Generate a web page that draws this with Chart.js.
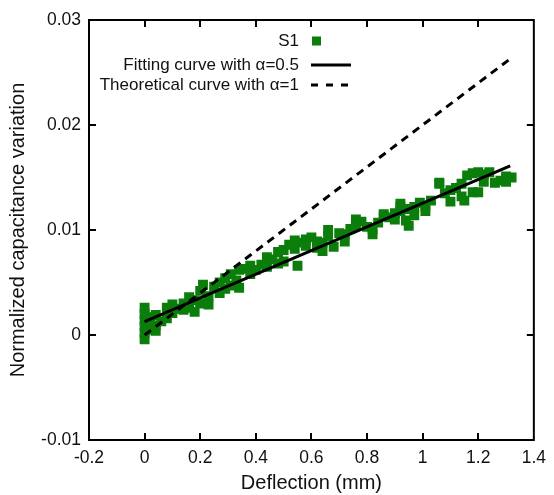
<!DOCTYPE html>
<html>
<head>
<meta charset="utf-8">
<script src="https://cdn.jsdelivr.net/npm/chart.js@4/dist/chart.umd.min.js"></script>
<style>
  html, body { margin: 0; padding: 0; background: #ffffff; }
  #wrap { width: 554px; height: 495px; }
</style>
</head>
<body>
<div id="wrap"><canvas id="c" width="554" height="495"></canvas></div>
<script>
// ---- data ----
const s1X = [
  0,0,0,0,0,0, 0.01,0.01, 0.02, 0.04,0.04,0.04, 0.06, 0.08,0.08, 0.10,0.10, 0.12,
  0.14,0.14, 0.16,0.16, 0.18,0.18, 0.20,0.20, 0.21, 0.23,0.23, 0.25, 0.27,0.27,
  0.29,0.29, 0.31,0.31, 0.33, 0.34,0.34, 0.36, 0.38,0.38, 0.40, 0.42, 0.44,0.44,
  0.46, 0.48,0.48, 0.50,0.50, 0.52, 0.54,0.54,0.55, 0.56, 0.58,0.58, 0.60,
  0.62,0.62, 0.64,0.64, 0.66,0.66, 0.68, 0.70, 0.72,0.72, 0.74, 0.76,0.76, 0.78,
  0.80, 0.82,0.82, 0.84, 0.86,0.86, 0.88, 0.90,0.90, 0.92,0.92,0.92, 0.94,0.94, 0.95,
  0.97,0.97, 0.99, 1.01,1.01, 1.03, 1.06,1.06, 1.08, 1.10,1.10, 1.12, 1.14,1.14,
  1.15, 1.16, 1.18,1.18, 1.20,1.20, 1.22,1.22, 1.24, 1.26, 1.28, 1.30,1.30, 1.32
];
const s1Y = [
  0.0026,0.0020,0.0014,0.0008,0.0002,-0.0004, 0.0017,0.0005, 0.0011, 0.0019,0.0009,0.0004,
  0.0013, 0.0026,0.0016, 0.0029,0.0021, 0.0025,
  0.0030,0.0024, 0.0036,0.0026, 0.0033,0.0022, 0.0042,0.0030, 0.0048, 0.0037,0.0029,
  0.0046, 0.0050,0.0040,
  0.0054,0.0044, 0.0058,0.0047, 0.0052, 0.0062,0.0045, 0.0063, 0.0066,0.0058, 0.0062,
  0.0067, 0.0074,0.0065,
  0.0072, 0.0079,0.0068, 0.0081,0.0070, 0.0086, 0.0090,0.0082,0.0066, 0.0088,
  0.0091,0.0085, 0.0093,
  0.0089,0.0083, 0.0088,0.0080, 0.0100,0.0094, 0.0084, 0.0097, 0.0096,0.0089, 0.0101,
  0.0110,0.0104, 0.0108,
  0.0103, 0.0101,0.0096, 0.0107, 0.0113,0.0115, 0.0112, 0.0116,0.0110,
  0.0125,0.0118,0.0122, 0.0109,0.0120, 0.0104,
  0.0122,0.0114, 0.0126, 0.0123,0.0118, 0.0128, 0.0145,0.0144, 0.0135, 0.0138,0.0127,
  0.0140, 0.0144,0.0132,
  0.0128, 0.0152, 0.0154,0.0136, 0.0155,0.0136, 0.0153,0.0146, 0.0155, 0.0145, 0.0147,
  0.0151,0.0146, 0.0150
];
const fitX = [0, 1.315];
const fitY = [0.00127, 0.0161];
const theoX = [0, 1.315];
const theoY = [0, 0.0263];
const xTicks = [-0.2, 0, 0.2, 0.4, 0.6, 0.8, 1, 1.2, 1.4];
const yTicks = [-0.01, 0, 0.01, 0.02, 0.03];
const legendLabels = ["S1", "Fitting curve with α=0.5", "Theoretical curve with α=1"];
const xTitle = "Deflection (mm)";
const yTitle = "Normalized capacitance variation";

const FONT = "'Liberation Sans', Arial, sans-serif";
const GREEN = "#0b7d0b";

const toPts = (xs, ys) => xs.map((x, i) => ({ x: x, y: ys[i] }));

const framePlugin = {
  id: 'frame',
  afterDatasetsDraw(chart) {
    const { ctx, chartArea: a, scales } = chart;
    ctx.save();
    ctx.strokeStyle = '#000';
    ctx.lineWidth = 2;
    ctx.strokeRect(a.left, a.top, a.right - a.left, a.bottom - a.top);
    const L = 7;
    ctx.beginPath();
    xTicks.slice(1, -1).forEach(v => {
      const px = Math.round(scales.x.getPixelForValue(v));
      ctx.moveTo(px, a.bottom); ctx.lineTo(px, a.bottom - L);
      ctx.moveTo(px, a.top); ctx.lineTo(px, a.top + L);
    });
    yTicks.slice(1, -1).forEach(v => {
      const py = Math.round(scales.y.getPixelForValue(v));
      ctx.moveTo(a.left, py); ctx.lineTo(a.left + L, py);
      ctx.moveTo(a.right, py); ctx.lineTo(a.right - L, py);
    });
    ctx.stroke();
    ctx.restore();
  }
};

const legendPlugin = {
  id: 'customLegend',
  afterDraw(chart) {
    const { ctx } = chart;
    ctx.save();
    ctx.font = "17px " + FONT;
    ctx.fillStyle = '#111';
    ctx.textAlign = 'right';
    ctx.textBaseline = 'middle';
    const tx = 299;
    const rows = [41, 65, 85];
    legendLabels.forEach((t, i) => ctx.fillText(t, tx, rows[i]));
    ctx.fillStyle = GREEN;
    ctx.fillRect(312, rows[0] - 4.5, 9, 9);
    ctx.strokeStyle = '#000';
    ctx.lineWidth = 3;
    ctx.beginPath(); ctx.moveTo(311, rows[1]); ctx.lineTo(351, rows[1]); ctx.stroke();
    ctx.setLineDash([7, 8]);
    ctx.beginPath(); ctx.moveTo(311, rows[2]); ctx.lineTo(351, rows[2]); ctx.stroke();
    ctx.restore();
  }
};

const fmt = v => String(parseFloat(Number(v).toFixed(3)));

new Chart(document.getElementById('c'), {
  type: 'scatter',
  data: {
    datasets: [
      {
        label: legendLabels[1], data: toPts(fitX, fitY), showLine: true,
        borderColor: '#000', borderWidth: 3, pointRadius: 0, fill: false, order: 1
      },
      {
        label: legendLabels[2], data: toPts(theoX, theoY), showLine: true,
        borderColor: '#000', borderWidth: 3, borderDash: [8, 6], pointRadius: 0, fill: false, order: 2
      },
      {
        label: legendLabels[0], data: toPts(s1X, s1Y),
        pointStyle: 'rect', pointRadius: 7, pointBorderWidth: 0,
        backgroundColor: GREEN, borderColor: GREEN, order: 3
      }
    ]
  },
  options: {
    responsive: false,
    animation: false,
    layout: { padding: { left: 2, right: 14, top: 20, bottom: 0 } },
    plugins: { legend: { display: false }, tooltip: { enabled: false } },
    scales: {
      x: {
        type: 'linear', min: -0.2, max: 1.4,
        afterBuildTicks: s => { s.ticks = xTicks.map(v => ({ value: v })); },
        afterFit: s => { s.height = 55; },
        grid: { display: false, drawTicks: false },
        border: { display: false },
        ticks: { font: { family: FONT, size: 17.5 }, color: '#111', padding: 8, maxRotation: 0, callback: v => fmt(v) },
        title: { display: true, text: xTitle, font: { family: FONT, size: 20 }, color: '#111', padding: { top: 0, bottom: 0 } }
      },
      y: {
        type: 'linear', min: -0.01, max: 0.03,
        afterBuildTicks: s => { s.ticks = yTicks.map(v => ({ value: v })); },
        afterFit: s => { s.width = 87; },
        grid: { display: false, drawTicks: false },
        border: { display: false },
        ticks: { font: { family: FONT, size: 17.5 }, color: '#111', padding: 8, callback: v => fmt(v) },
        title: { display: true, text: yTitle, font: { family: FONT, size: 20 }, color: '#111', padding: { top: 4, bottom: 0 } }
      }
    }
  },
  plugins: [framePlugin, legendPlugin]
});
</script>
</body>
</html>
